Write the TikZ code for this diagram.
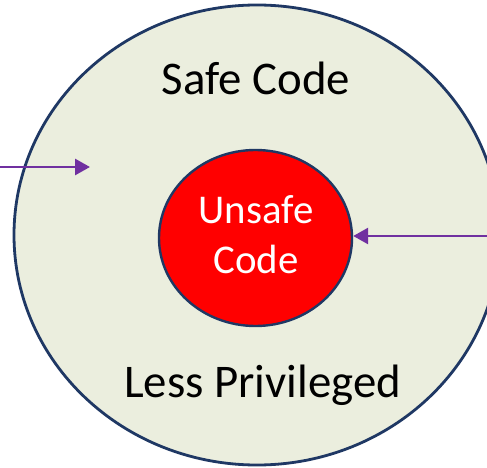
\documentclass[tikz,border=0pt]{standalone}
\usepackage{fontspec}
\setmainfont{Carlito}
\usetikzlibrary{shapes.geometric,arrows.meta}
\definecolor{ringfill}{RGB}{235,238,222}
\definecolor{ringline}{RGB}{31,56,100}
\definecolor{arrowpurple}{RGB}{112,48,160}
\tikzset{
  zone/.style={ellipse, draw=ringline, line width=2.8bp, inner sep=0pt},
  label/.style={anchor=base, inner sep=0pt, font=\fontsize{47}{56}\selectfont},
  corelabel/.style={anchor=base, inner sep=0pt, text=white, font=\fontsize{41}{49}\selectfont},
  entry/.style={draw=arrowpurple, line width=2.8bp, -{Triangle[length=15bp,width=16bp]}}
}
\begin{document}
\begin{tikzpicture}[x=1bp,y=-1bp]
  \useasboundingbox (0,0) rectangle (487,468);
  \clip (0,0) rectangle (487,468);
  % outer region: safe code
  \node[zone, fill=ringfill, minimum width=486bp, minimum height=460bp] (safe) at (257,235) {};
  % inner region: unsafe code
  \node[zone, fill=red, line width=2.4bp, minimum width=193bp, minimum height=176bp] (unsafe) at (255.5,238) {};
  \node[label] (safetxt) at (256,94.3) {Safe Code};
  \node[label] (lesstxt) at (262.5,397.7) {Less Privileged};
  \node[corelabel] (unsafetxt) at (256,224) {Unsafe};
  \node[corelabel] (codetxt) at (256,273) {Code};
  % entry points
  \coordinate (leftin) at (0,167);
  \coordinate (lefttip) at (90,167);
  \coordinate (rightin) at (487,236);
  \draw[entry] (leftin) -- (lefttip);
  \draw[entry] (rightin) -- (unsafe.east |- rightin);
\end{tikzpicture}
\end{document}
